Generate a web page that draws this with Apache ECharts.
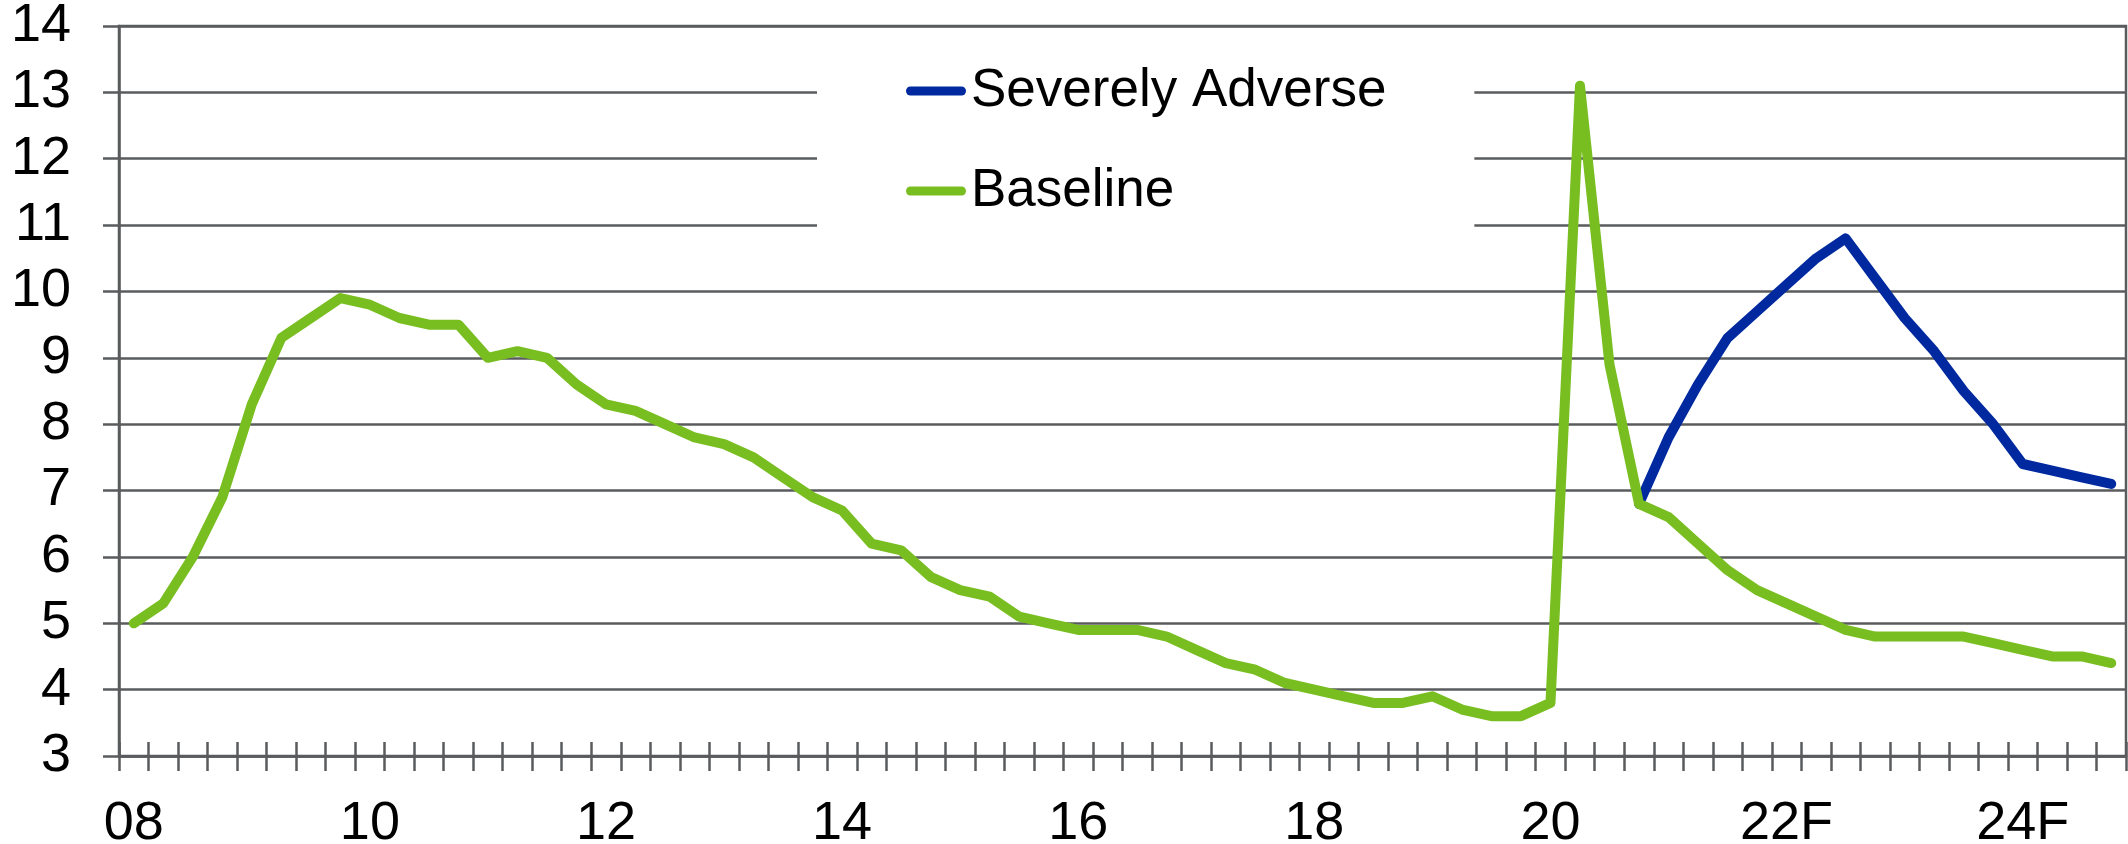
<!DOCTYPE html>
<html>
<head>
<meta charset="utf-8">
<script src="https://cdn.jsdelivr.net/npm/echarts@6/dist/echarts.min.js"></script>
<style>
  html, body { margin: 0; padding: 0; background: #ffffff; }
  #chart { width: 2128px; height: 844px; }
</style>
</head>
<body>
<div id="chart"></div>
<script>
// Quarterly unemployment rate, 2008Q1 - 2024Q4 (percent)
const years = ['08', '09', '10', '11', '12', '13', '14', '15', '16', '17', '18', '19', '20', '21', '22', '23', '24'];
const quarters = ['Q1', 'Q2', 'Q3', 'Q4'];
const categories = years.flatMap(y => quarters.map(q => y + q));

// Year labels shown under Q1 of every second year
const tickLabels = {
  '08Q1': '08', '10Q1': '10', '12Q1': '12', '14Q1': '14', '16Q1': '16',
  '18Q1': '18', '20Q1': '20', '22Q1': '22F', '24Q1': '24F'
};

const baseline = [
  5.0, 5.3, 6.0, 6.9, 8.3, 9.3, 9.6, 9.9,
  9.8, 9.6, 9.5, 9.5, 9.0, 9.1, 9.0, 8.6,
  8.3, 8.2, 8.0, 7.8, 7.7, 7.5, 7.2, 6.9,
  6.7, 6.2, 6.1, 5.7, 5.5, 5.4, 5.1, 5.0,
  4.9, 4.9, 4.9, 4.8, 4.6, 4.4, 4.3, 4.1,
  4.0, 3.9, 3.8, 3.8, 3.9, 3.7, 3.6, 3.6,
  3.8, 13.1, 8.9, 6.8, 6.6, 6.2, 5.8, 5.5,
  5.3, 5.1, 4.9, 4.8, 4.8, 4.8, 4.8, 4.7,
  4.6, 4.5, 4.5, 4.4
];

// Scenario path begins at 2020Q4
const severelyAdverse = [
  null, null, null, null, null, null, null, null,
  null, null, null, null, null, null, null, null,
  null, null, null, null, null, null, null, null,
  null, null, null, null, null, null, null, null,
  null, null, null, null, null, null, null, null,
  null, null, null, null, null, null, null, null,
  null, null, null, 6.8, 7.8, 8.6, 9.3, 9.7,
  10.1, 10.5, 10.8, 10.2, 9.6, 9.1, 8.5, 8.0,
  7.4, 7.3, 7.2, 7.1
];

const FONT = '"Liberation Sans", Arial, Helvetica, sans-serif';
const GREY = '#5a5b5d';
const GREEN = '#78be21';
const BLUE = '#0029a0';
const PILL = 'path://M4.5,0 L55.5,0 A4.5,4.5 0 0 1 55.5,9 L4.5,9 A4.5,4.5 0 0 1 4.5,0 Z';

const chart = echarts.init(document.getElementById('chart'), null, { renderer: 'canvas' });

chart.setOption({
  animation: false,
  backgroundColor: '#ffffff',
  textStyle: { fontFamily: FONT },
  grid: {
    left: 119, right: 2, top: 26, bottom: 88,
    containLabel: false,
    outerBoundsMode: 'none',
    show: true, borderColor: GREY, borderWidth: 2.5, backgroundColor: 'transparent'
  },
  legend: {
    orient: 'vertical',
    left: 817, top: 45,
    padding: [16, 88, 40, 89],
    backgroundColor: '#ffffff',
    itemWidth: 60, itemHeight: 9, itemGap: 40,
    textStyle: { fontFamily: FONT, fontSize: 53, color: '#000000', lineHeight: 60 },
    data: [
      { name: 'Severely Adverse', icon: PILL },
      { name: 'Baseline', icon: PILL }
    ],
    z: 5
  },
  xAxis: [
    {
      type: 'category',
      data: categories,
      boundaryGap: true,
      position: 'bottom',
      axisLine: { show: true, lineStyle: { color: GREY, width: 2.5 } },
      axisTick: { show: true, interval: 0, length: 15, lineStyle: { color: GREY, width: 2.5 } },
      axisLabel: {
        interval: (idx, val) => tickLabels[val] !== undefined,
        formatter: val => tickLabels[val] || '',
        fontFamily: FONT, fontSize: 54, color: '#000000', margin: 41
      },
      splitLine: { show: false }
    },
    {
      // inward half of the crossing tick marks
      type: 'category',
      data: categories,
      boundaryGap: true,
      position: 'bottom',
      axisLine: { show: false },
      axisTick: { show: true, inside: true, interval: 0, length: 14, lineStyle: { color: GREY, width: 2.5 } },
      axisLabel: { show: false },
      splitLine: { show: false }
    }
  ],
  yAxis: {
    type: 'value',
    min: 3, max: 14, interval: 1,
    axisLine: { show: true, lineStyle: { color: GREY, width: 2.5 } },
    axisTick: { show: true, length: 16, lineStyle: { color: GREY, width: 2.5 } },
    axisLabel: { fontFamily: FONT, fontSize: 54, color: '#000000', margin: 48 },
    splitLine: { show: true, lineStyle: { color: GREY, width: 2.5 } }
  },
  series: [
    {
      name: 'Severely Adverse',
      type: 'line',
      data: severelyAdverse,
      showSymbol: false,
      symbol: 'none',
      connectNulls: false,
      itemStyle: { color: BLUE },
      lineStyle: { color: BLUE, width: 10, cap: 'round', join: 'round' },
      z: 3
    },
    {
      name: 'Baseline',
      type: 'line',
      data: baseline,
      showSymbol: false,
      symbol: 'none',
      itemStyle: { color: GREEN },
      lineStyle: { color: GREEN, width: 10, cap: 'round', join: 'round' },
      z: 4
    }
  ]
});
</script>
</body>
</html>
